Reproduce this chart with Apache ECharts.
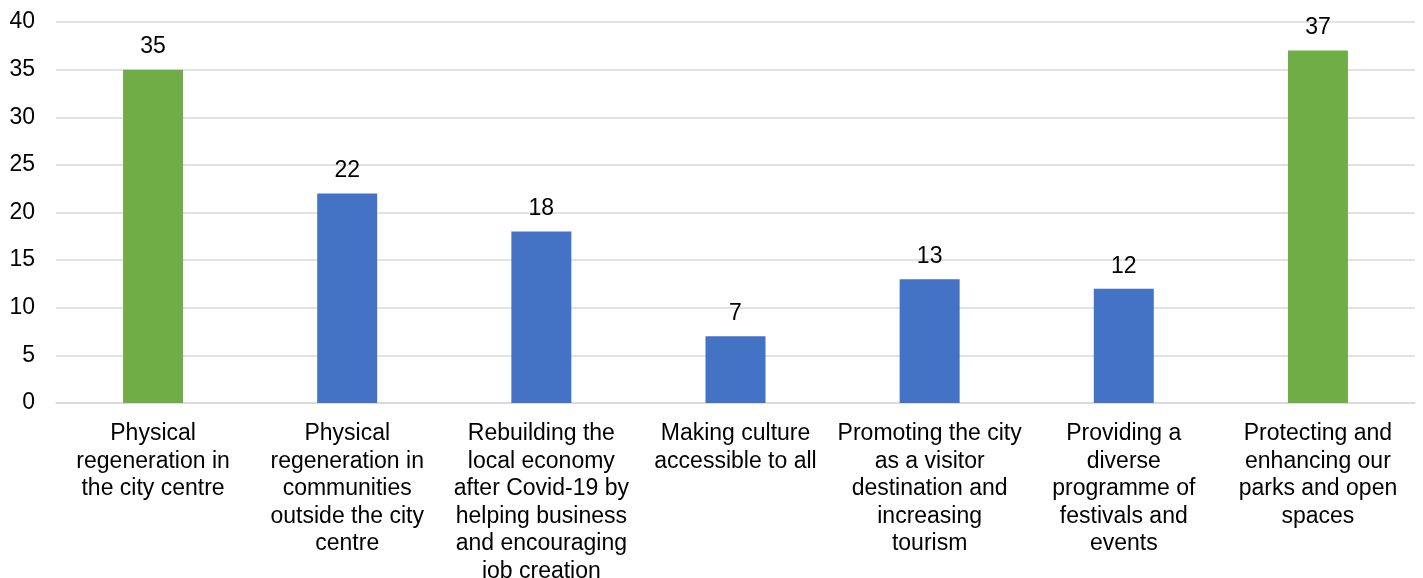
<!DOCTYPE html>
<html>
<head>
<meta charset="utf-8">
<script src="https://cdn.jsdelivr.net/npm/echarts@6/dist/echarts.min.js"></script>
<style>
html,body{margin:0;padding:0;background:#fff;}
#chart{width:1423px;height:578px;}
</style>
</head>
<body>
<div id="chart"></div>
<script>
const categories = [
  "Physical\nregeneration in\nthe city centre",
  "Physical\nregeneration in\ncommunities\noutside the city\ncentre",
  "Rebuilding the\nlocal economy\nafter Covid-19 by\nhelping business\nand encouraging\njob creation",
  "Making culture\naccessible to all",
  "Promoting the city\nas a visitor\ndestination and\nincreasing\ntourism",
  "Providing a\ndiverse\nprogramme of\nfestivals and\nevents",
  "Protecting and\nenhancing our\nparks and open\nspaces"
];
const values = [35, 22, 18, 7, 13, 12, 37];
const highlighted = [true, false, false, false, false, false, true];
const GREEN = "#70AD47", BLUE = "#4472C4";
const FONT = "Liberation Sans, Arial, sans-serif";

const chart = echarts.init(document.getElementById('chart'));
chart.setOption({
  animation: false,
  backgroundColor: '#fff',
  grid: {left: 56, right: 8, top: 22, bottom: 175, containLabel: false, outerBoundsMode: 'none'},
  xAxis: {
    type: 'category',
    data: categories,
    axisLine: {show: true, lineStyle: {color: '#D9D9D9', width: 1.5}},
    axisTick: {show: false},
    axisLabel: {interval: 0, fontSize: 23, fontFamily: FONT, color: '#000', lineHeight: 27.5, margin: 17, align: 'center'}
  },
  yAxis: {
    type: 'value',
    min: 0, max: 40, interval: 5,
    axisLine: {show: false},
    axisTick: {show: false},
    splitLine: {lineStyle: {color: '#D9D9D9', width: 1.5}},
    axisLabel: {fontSize: 23, fontFamily: FONT, color: '#000', margin: 21}
  },
  series: [{
    type: 'bar',
    barWidth: 60,
    data: values.map((v, i) => ({value: v, itemStyle: {color: highlighted[i] ? GREEN : BLUE}})),
    label: {show: true, position: 'top', distance: 11, fontSize: 23, fontFamily: FONT, color: '#000'}
  }]
});
</script>
</body>
</html>
